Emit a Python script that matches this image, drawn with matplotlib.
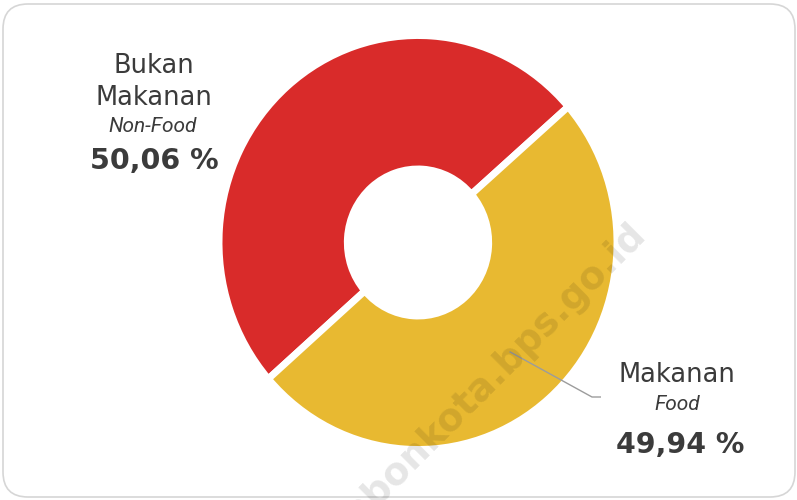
import numpy as np
import matplotlib.pyplot as plt
from matplotlib.patches import FancyBboxPatch

# data
categories = ['Bukan\nMakanan', 'Makanan']
subtitles = ['Non-Food', 'Food']
shares = [50.06, 49.94]
colors = ['#D92B2A', '#E8B931']
watermark = 'ambonkota.bps.go.id'

W, H = 797, 500
text_color = '#3b3b3b'
main_font = ['DejaVu Sans']
narrow_font = ['Roboto', 'DejaVu Sans']

fig = plt.figure(figsize=(W / 100, H / 100), dpi=100)

# background layer in pixel coords (y down)
bg = fig.add_axes([0, 0, 1, 1])
bg.set_xlim(0, W)
bg.set_ylim(H, 0)
bg.axis('off')
bg.add_patch(FancyBboxPatch((3, 4), 792, 493,
                            boxstyle='round,pad=0,rounding_size=25',
                            fc='white', ec='#d6d6d6', lw=1.2))

# donut
cx, cy, rx, ry = 418, 242.5, 199, 207
ax = fig.add_axes([(cx - rx) / W, (H - cy - ry) / H, 2 * rx / W, 2 * ry / H])
wedges, _ = ax.pie(shares, colors=colors, startangle=41, counterclock=True,
                   wedgeprops=dict(width=0.645, edgecolor='white', linewidth=5))
ax.set_aspect('auto')
ax.set_xlim(-1, 1)
ax.set_ylim(-1, 1)

# top layer for labels, leader line and watermark
top = fig.add_axes([0, 0, 1, 1])
top.set_xlim(0, W)
top.set_ylim(H, 0)
top.axis('off')
top.patch.set_alpha(0)

pct = [f'{v:.2f}'.replace('.', ',') + ' %' for v in shares]

# left label (Bukan Makanan)
top.text(154, 73, 'Bukan', ha='center', va='baseline', fontsize=18.5,
         color=text_color, family=main_font)
top.text(154, 105, 'Makanan', ha='center', va='baseline', fontsize=18.5,
         color=text_color, family=main_font)
top.text(153, 132, subtitles[0], ha='center', va='baseline', fontsize=15,
         style='italic', color=text_color, family=narrow_font)
top.text(154, 169, pct[0], ha='center', va='baseline', fontsize=20.5,
         fontweight='bold', color=text_color, family=main_font)

# right label (Makanan)
top.text(677, 382, categories[1], ha='center', va='baseline', fontsize=18.5,
         color=text_color, family=main_font)
top.text(677, 410, subtitles[1], ha='center', va='baseline', fontsize=15,
         style='italic', color=text_color, family=narrow_font)
top.text(680, 453, pct[1], ha='center', va='baseline', fontsize=20.5,
         fontweight='bold', color=text_color, family=main_font)

# leader line from the yellow slice
w = wedges[1]
mid = np.deg2rad((w.theta1 + w.theta2) / 2)
sx = cx + 0.7 * np.cos(mid) * rx
sy = cy - 0.7 * np.sin(mid) * ry
top.plot([sx, 592, 601], [sy, 397, 397], color='#9c9c9c', lw=1.0,
         solid_capstyle='butt')

# watermark
top.text(640, 229, watermark, rotation=45, rotation_mode='anchor',
         ha='right', va='center', fontsize=27, fontweight='bold',
         color='black', alpha=0.1, family=main_font)

fig.savefig('out.png', dpi=100)
